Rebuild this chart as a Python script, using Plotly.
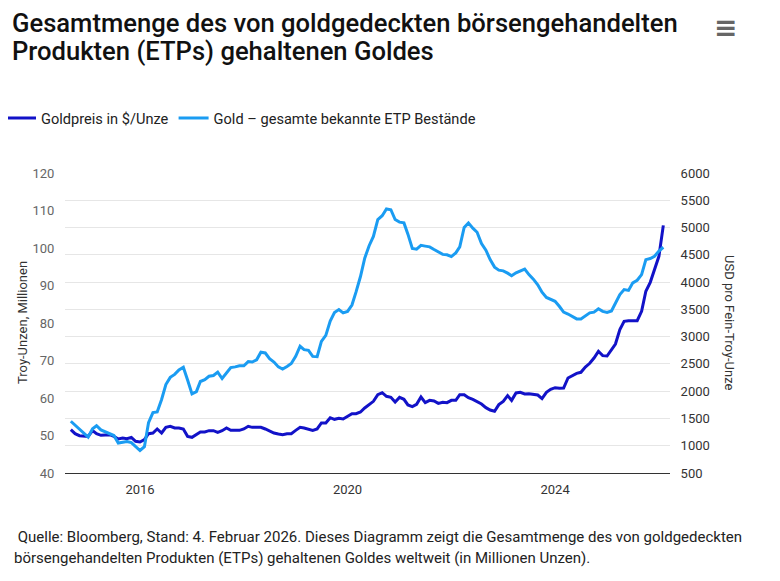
import plotly.graph_objects as go
import pandas as pd

# Monthly observations, Sep 2014 .. Feb 2026
dates = pd.date_range("2014-09-01", periods=138, freq="MS")

gold_price = [
    1294, 1221, 1184, 1172, 1172, 1276, 1221, 1191, 1191, 1203, 1172, 1123, 1142, 1129, 1154, 1081,
    1068, 1111, 1221, 1233, 1307, 1233, 1337, 1356, 1325, 1325, 1307, 1172, 1154, 1203, 1252, 1252,
    1276, 1276, 1246, 1276, 1325, 1282, 1276, 1282, 1307, 1356, 1337, 1337, 1337, 1307, 1264, 1233,
    1215, 1203, 1221, 1221, 1282, 1337,
    1325, 1307, 1282, 1307, 1417, 1417, 1514, 1484, 1502, 1490, 1539, 1588, 1588, 1618, 1692, 1747,
    1814, 1936, 1973, 1906, 1887, 1802, 1887, 1851, 1747, 1716, 1759, 1893, 1789, 1832, 1820, 1777,
    1796, 1789, 1832, 1832, 1936, 1936, 1881, 1851, 1802, 1765, 1698, 1655, 1631, 1753, 1814, 1918,
    1832, 1967, 1979, 1948, 1954, 1948, 1930, 1863, 1979, 2034, 2064, 2052, 2058, 2242, 2284, 2327,
    2346, 2443, 2511, 2608, 2731, 2651, 2645, 2761, 2865, 3128, 3281, 3293, 3299, 3293, 3464, 3831,
    3996, 4240, 4472, 5040,
]

etp_holdings = [
    53.8, 52.7, 51.6, 50.6, 49.6, 51.8, 52.6, 51.5, 51.0, 50.7, 50.0, 48.0, 48.2, 48.4, 48.1, 47.1,
    46.0, 47.0, 53.4, 56.1, 56.3, 59.6, 63.6, 65.5, 66.3, 67.5, 68.2, 64.8, 61.1, 61.7, 64.4, 64.9,
    65.8, 66.0, 66.9, 65.2, 66.7, 68.1, 68.3, 68.6, 68.6, 69.7, 69.6, 70.2, 72.2, 72.0, 70.5, 69.6,
    68.3, 67.7, 68.4, 69.2, 71.1, 73.8,
    72.9, 72.7, 71.1, 71.0, 75.1, 76.7, 80.5, 82.8, 83.6, 82.7, 83.1, 84.8, 88.3, 92.4, 97.3, 100.6,
    103.1, 107.6, 108.6, 110.4, 110.2, 107.6, 106.9, 106.7, 103.7, 99.9, 99.7, 100.7, 100.5, 100.3, 99.6, 98.9,
    98.3, 98.2, 97.7, 98.7, 100.3, 105.5, 106.7, 105.3, 104.2, 101.2, 99.4, 96.9, 94.9, 94.1, 93.9, 93.3,
    92.6, 93.4, 94.0, 94.4, 92.9, 91.7, 90.2, 88.2, 86.8, 86.2, 85.8, 84.4, 82.9, 82.4, 81.8, 81.1,
    81.1, 82.0, 82.7, 82.9, 83.8, 83.1, 82.8, 83.2, 85.3, 87.6, 88.9, 88.7, 90.7, 91.4, 92.9, 96.9,
    97.2, 97.8, 99.2, 100.2,
]

x_tick_vals = ["2016-01-01", "2020-01-01", "2024-01-01"]
x_tick_text = ["2016", "2020", "2024"]
left_ticks = [40, 50, 60, 70, 80, 90, 100, 110, 120]
right_ticks = [500, 1000, 1500, 2000, 2500, 3000, 3500, 4000, 4500, 5000, 5500, 6000]

DARK = "#1212c8"
LIGHT = "#1a9cf2"
FONT = "Roboto, Inter, sans-serif"

# page body adds an 8px offset; figure is sized so the screen layout matches 780x581
OFF = 8
W, H = 780 - OFF, 581 - OFF
L, R, T, B = 65 - OFF, 110, 173 - OFF, 108
PW, PH = W - L - R, H - T - B


def px(x):  # screen x -> paper x
    return (x - OFF - L) / PW


def py(y):  # screen y -> paper y
    return (H - B - (y - OFF)) / PH


fig = go.Figure()
fig.add_trace(go.Scatter(
    x=dates, y=gold_price, name="Goldpreis in $/Unze", yaxis="y",
    mode="lines", line=dict(color=DARK, width=3),
))
fig.add_trace(go.Scatter(
    x=dates, y=etp_holdings, name="Gold – gesamte bekannte ETP Bestände", yaxis="y2",
    mode="lines", line=dict(color=LIGHT, width=3),
))

fig.update_layout(
    width=W, height=H,
    margin=dict(l=L, r=R, t=T, b=B, autoexpand=False),
    paper_bgcolor="white", plot_bgcolor="white",
    font=dict(family=FONT, size=13, color="#333333"),
    showlegend=True,
    legend=dict(
        orientation="h", x=px(1), xanchor="left", y=py(118), yanchor="middle",
        font=dict(size=14.6, color="#222222"), itemwidth=30, bgcolor="rgba(0,0,0,0)",
    ),
    xaxis=dict(
        type="date", range=["2014-07-22", "2026-03-20"],
        tickvals=x_tick_vals, ticktext=x_tick_text,
        showgrid=False, zeroline=False,
        showline=True, linecolor="#333333", linewidth=1,
        ticks="outside", ticklen=4, tickcolor="rgba(0,0,0,0)",
        tickfont=dict(size=13, color="#333333"),
    ),
    yaxis=dict(
        side="right", range=[500, 6000], tickvals=right_ticks,
        showgrid=True, gridcolor="#e6e6e6", gridwidth=1, zeroline=False,
        ticks="outside", ticklen=7, tickcolor="rgba(0,0,0,0)",
        tickfont=dict(size=13, color="#333333"),
    ),
    yaxis2=dict(
        overlaying="y", side="left", range=[40, 120], tickvals=left_ticks,
        showgrid=False, zeroline=False,
        ticks="outside", ticklen=7, tickcolor="rgba(0,0,0,0)",
        tickfont=dict(size=13, color="#666666"),
    ),
)

annotations = [
    dict(text="Gesamtmenge des von goldgedeckten börsengehandelten", x=px(10), y=py(23),
         xanchor="left", yanchor="middle", font=dict(size=25.6, color="#111111", family=FONT, weight=500)),
    dict(text="Produkten (ETPs) gehaltenen Goldes", x=px(10), y=py(51),
         xanchor="left", yanchor="middle", font=dict(size=25.6, color="#111111", family=FONT, weight=500)),
    dict(text="≡", x=px(725), y=py(27), xanchor="center", yanchor="middle",
         font=dict(size=28, color="#666666", family="DejaVu Sans", weight="bold")),
    dict(text="Troy-Unzen, Millionen", x=px(22), y=py(323), textangle=-90,
         xanchor="center", yanchor="middle", font=dict(size=13, color="#333333")),
    dict(text="USD pro Fein-Troy-Unze", x=px(730), y=py(323), textangle=90,
         xanchor="center", yanchor="middle", font=dict(size=13, color="#333333")),
    dict(text="\u00a0Quelle: Bloomberg, Stand: 4. Februar 2026. Dieses Diagramm zeigt die Gesamtmenge des von goldgedeckten",
         x=px(12), y=py(537), xanchor="left", yanchor="middle", font=dict(size=15, color="#222222")),
    dict(text="börsengehandelten Produkten (ETPs) gehaltenen Goldes weltweit (in Millionen Unzen).",
         x=px(12), y=py(558), xanchor="left", yanchor="middle", font=dict(size=15, color="#222222")),
]
for a in annotations:
    a.update(xref="paper", yref="paper", showarrow=False)
fig.update_layout(annotations=annotations)

fig.write_html("out.html")
